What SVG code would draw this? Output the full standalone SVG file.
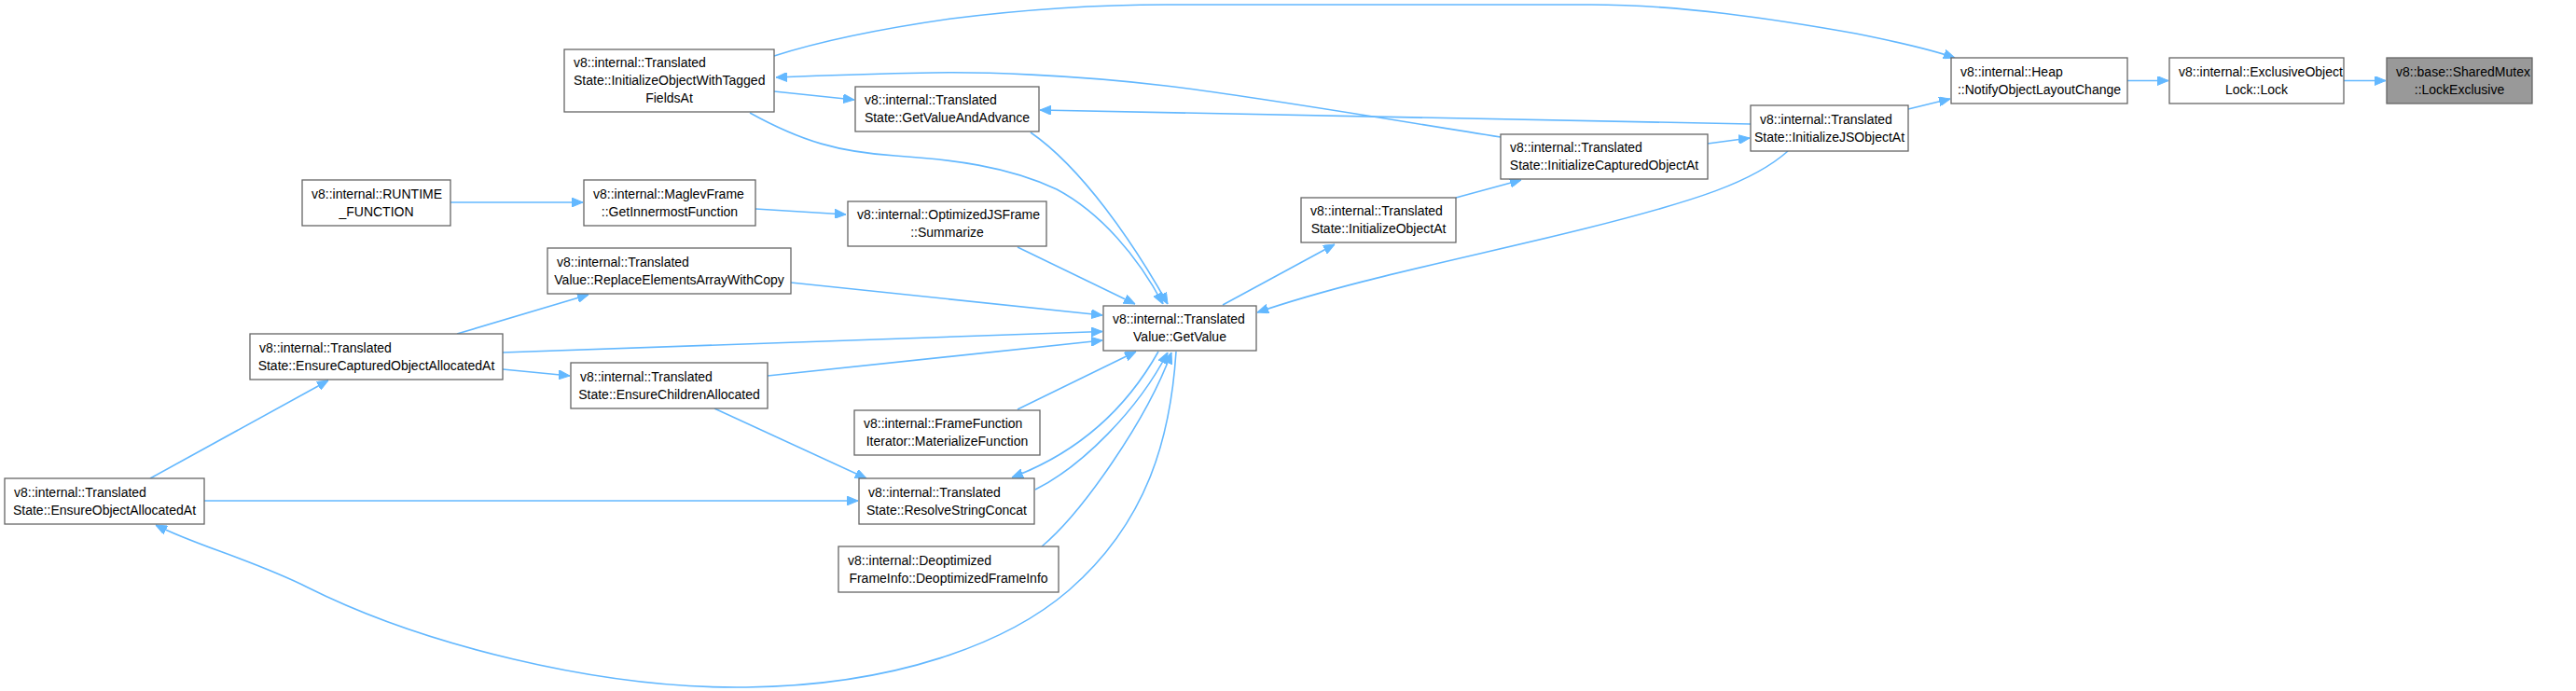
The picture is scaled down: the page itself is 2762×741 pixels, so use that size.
<svg xmlns="http://www.w3.org/2000/svg" width="2762" height="741" viewBox="0 0 2762 741">
<style>
.box{fill:#ffffff;stroke:#666666;stroke-width:1.3}
.root{fill:#999999;stroke:#666666;stroke-width:1.3}
.t{font-family:"Liberation Sans",Arial,sans-serif;font-size:14px;fill:#000000}
.c{text-anchor:middle}
.e{fill:none;stroke:#63b8ff;stroke-width:1.6;marker-end:url(#ah)}
</style>
<defs>
<marker id="ah" viewBox="0 0 12 10" refX="12" refY="5" markerWidth="12" markerHeight="10" orient="auto" markerUnits="userSpaceOnUse">
<path d="M0,0 L12,5 L0,10 z" fill="#63b8ff" stroke="#63b8ff" stroke-width="1"/>
</marker>
</defs>
<rect width="2762" height="741" fill="#ffffff"/>
<g id="connectors">
<path class="e" d="M2513,86.5 L2558,86.5"/>
<path class="e" d="M2281,86.5 L2325,86.5"/>
<path class="e" d="M2046,117 L2091,106"/>
<path class="e" d="M830,60 C880,44 950,30 1020,20 C1100,10 1180,5 1250,5 L1706,5 C1800,5 1900,20 1990,36 C2030,44 2070,53 2096,62"/>
<path class="e" d="M1609,147 C1500,130 1350,104 1250,92 C1150,80 1050,77 1000,78 C940,79 880,81 832,83"/>
<path class="e" d="M1877,133 L1115,118"/>
<path class="e" d="M830,98 L916,107"/>
<path class="e" d="M1105,142 C1160,180 1215,260 1252,326"/>
<path class="e" d="M804,121 C860,152 900,163 960,167 C1020,171 1080,178 1133,203 C1180,228 1220,275 1247,326"/>
<path class="e" d="M1091,265 L1217,326"/>
<path class="e" d="M810,224 L907,230"/>
<path class="e" d="M483,217 L625,217"/>
<path class="e" d="M1311,327 L1431,262"/>
<path class="e" d="M1561,212 L1631,193"/>
<path class="e" d="M1831,154 L1876,148"/>
<path class="e" d="M1917,162 C1880,195 1820,215 1700,245 C1580,275 1450,300 1348,335"/>
<path class="e" d="M848,303 L1182,338"/>
<path class="e" d="M490,358 L631,316"/>
<path class="e" d="M539,378 L1182,355.5"/>
<path class="e" d="M539,396 L611,403"/>
<path class="e" d="M823,403 L1182,365"/>
<path class="e" d="M766,438 L929,513"/>
<path class="e" d="M161,513 L352,408"/>
<path class="e" d="M219,537 L920,537"/>
<path class="e" d="M1261,377 C1255,470 1230,560 1146,633 C1080,690 960,735 800,737 C640,739 450,690 330,630 C270,600 210,585 167,563"/>
<path class="e" d="M1091,439 L1218,377"/>
<path class="e" d="M1242,377 C1215,425 1170,480 1085,512"/>
<path class="e" d="M1110,525 C1160,500 1220,440 1252,378"/>
<path class="e" d="M1117,586 C1160,550 1230,450 1256,378"/>
</g>
<g id="n_lockexclusive">
<rect class="root" x="2559" y="62" width="156" height="49"/>
<text class="t" x="2569" y="81.5">v8::base::SharedMutex</text>
<text class="t c" x="2637" y="100.5">::LockExclusive</text>
</g>
<g id="n_lock">
<rect class="box" x="2326" y="62" width="187" height="49"/>
<text class="t" x="2336" y="81.5">v8::internal::ExclusiveObject</text>
<text class="t c" x="2419.5" y="100.5">Lock::Lock</text>
</g>
<g id="n_notify">
<rect class="box" x="2092" y="62" width="189" height="49"/>
<text class="t" x="2102" y="81.5">v8::internal::Heap</text>
<text class="t c" x="2186.5" y="100.5">::NotifyObjectLayoutChange</text>
</g>
<g id="n_initjsobject">
<rect class="box" x="1877" y="113" width="169" height="49"/>
<text class="t" x="1887" y="132.5">v8::internal::Translated</text>
<text class="t c" x="1961.5" y="151.5">State::InitializeJSObjectAt</text>
</g>
<g id="n_initcaptured">
<rect class="box" x="1609" y="144" width="222" height="48"/>
<text class="t" x="1619" y="163">v8::internal::Translated</text>
<text class="t c" x="1720" y="182">State::InitializeCapturedObjectAt</text>
</g>
<g id="n_initobject">
<rect class="box" x="1395" y="212" width="166" height="48"/>
<text class="t" x="1405" y="231">v8::internal::Translated</text>
<text class="t c" x="1478" y="250">State::InitializeObjectAt</text>
</g>
<g id="n_getvalueandadvance">
<rect class="box" x="917" y="93" width="197" height="48"/>
<text class="t" x="927" y="112">v8::internal::Translated</text>
<text class="t c" x="1015.5" y="131">State::GetValueAndAdvance</text>
</g>
<g id="n_initwithtagged">
<rect class="box" x="605" y="53" width="225" height="67"/>
<text class="t" x="615" y="72">v8::internal::Translated</text>
<text class="t" x="615" y="91">State::InitializeObjectWithTagged</text>
<text class="t c" x="717.5" y="110">FieldsAt</text>
</g>
<g id="n_runtime">
<rect class="box" x="324" y="193" width="159" height="49"/>
<text class="t" x="334" y="212.5">v8::internal::RUNTIME</text>
<text class="t c" x="403.5" y="231.5">_FUNCTION</text>
</g>
<g id="n_maglev">
<rect class="box" x="626" y="193" width="184" height="49"/>
<text class="t" x="636" y="212.5">v8::internal::MaglevFrame</text>
<text class="t c" x="718" y="231.5">::GetInnermostFunction</text>
</g>
<g id="n_summarize">
<rect class="box" x="909" y="216" width="213" height="48"/>
<text class="t" x="919" y="235">v8::internal::OptimizedJSFrame</text>
<text class="t c" x="1015.5" y="254">::Summarize</text>
</g>
<g id="n_getvalue">
<rect class="box" x="1183" y="328" width="164" height="48"/>
<text class="t" x="1193" y="347">v8::internal::Translated</text>
<text class="t c" x="1265" y="366">Value::GetValue</text>
</g>
<g id="n_replaceelements">
<rect class="box" x="587" y="266" width="261" height="49"/>
<text class="t" x="597" y="285.5">v8::internal::Translated</text>
<text class="t c" x="717.5" y="304.5">Value::ReplaceElementsArrayWithCopy</text>
</g>
<g id="n_ensurecaptured">
<rect class="box" x="268" y="358" width="271" height="49"/>
<text class="t" x="278" y="377.5">v8::internal::Translated</text>
<text class="t c" x="403.5" y="396.5">State::EnsureCapturedObjectAllocatedAt</text>
</g>
<g id="n_ensurechildren">
<rect class="box" x="612" y="389" width="211" height="49"/>
<text class="t" x="622" y="408.5">v8::internal::Translated</text>
<text class="t c" x="717.5" y="427.5">State::EnsureChildrenAllocated</text>
</g>
<g id="n_ensureobject">
<rect class="box" x="5" y="513" width="214" height="49"/>
<text class="t" x="15" y="532.5">v8::internal::Translated</text>
<text class="t c" x="112" y="551.5">State::EnsureObjectAllocatedAt</text>
</g>
<g id="n_materialize">
<rect class="box" x="916" y="440" width="199" height="48"/>
<text class="t" x="926" y="459">v8::internal::FrameFunction</text>
<text class="t c" x="1015.5" y="478">Iterator::MaterializeFunction</text>
</g>
<g id="n_resolvestring">
<rect class="box" x="921" y="513" width="188" height="49"/>
<text class="t" x="931" y="532.5">v8::internal::Translated</text>
<text class="t c" x="1015" y="551.5">State::ResolveStringConcat</text>
</g>
<g id="n_deoptframeinfo">
<rect class="box" x="899" y="586" width="236" height="49"/>
<text class="t" x="909" y="605.5">v8::internal::Deoptimized</text>
<text class="t c" x="1017" y="624.5">FrameInfo::DeoptimizedFrameInfo</text>
</g>
</svg>
